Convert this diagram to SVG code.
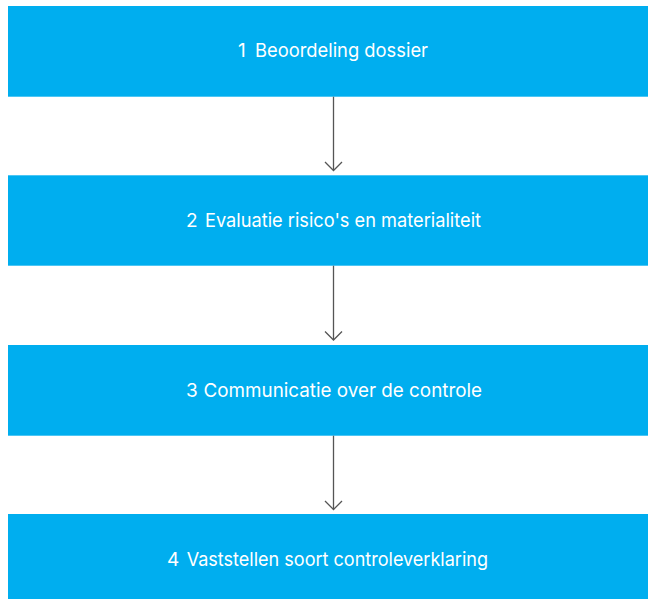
<svg xmlns="http://www.w3.org/2000/svg" width="648" height="599" viewBox="0 0 648 599">
  <style>
    .box { fill: #00AEEF; }
    .label { font-family: "Inter", "Liberation Sans", sans-serif; font-size: 19px; fill: #FFFFFF; }
    .conn { stroke: #555555; stroke-width: 1.3; fill: none; }
  </style>
  <rect width="648" height="599" fill="#FFFFFF"/>

  <g id="step1">
    <rect class="box" x="8" y="6" width="650" height="90.7"/>
    <text class="label" y="56.7"><tspan x="238">1</tspan><tspan x="255" textLength="173" lengthAdjust="spacingAndGlyphs">Beoordeling dossier</tspan></text>
  </g>

  <g id="step2">
    <rect class="box" x="8" y="175.3" width="650" height="90.4"/>
    <text class="label" y="227.3"><tspan x="186">2</tspan><tspan x="205" textLength="276" lengthAdjust="spacingAndGlyphs">Evaluatie risico's en materialiteit</tspan></text>
  </g>

  <g id="step3">
    <rect class="box" x="8" y="345" width="650" height="90.7"/>
    <text class="label" y="396.7"><tspan x="186">3</tspan><tspan x="203.5" textLength="278.5" lengthAdjust="spacingAndGlyphs">Communicatie over de controle</tspan></text>
  </g>

  <g id="step4">
    <rect class="box" x="8" y="514" width="650" height="90.7"/>
    <text class="label" y="566"><tspan x="167">4</tspan><tspan x="186.7" textLength="301.3" lengthAdjust="spacingAndGlyphs">Vaststellen soort controleverklaring</tspan></text>
  </g>

  <g id="connectors">
    <path class="conn" d="M333.5 96.7 V170"/>
    <path class="conn" d="M325 162 L333.5 170.5 L342 162"/>
    <path class="conn" d="M333.5 265.7 V339.5"/>
    <path class="conn" d="M325 331.5 L333.5 340 L342 331.5"/>
    <path class="conn" d="M333.5 435.7 V509"/>
    <path class="conn" d="M325 501 L333.5 509.5 L342 501"/>
  </g>
</svg>
